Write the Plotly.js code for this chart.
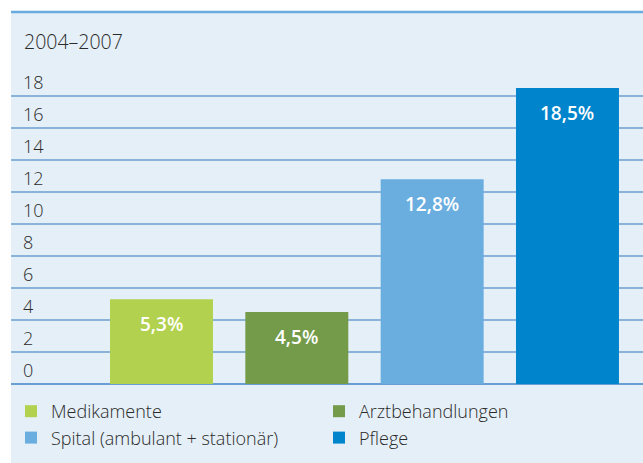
<!DOCTYPE html>
<html><head><meta charset="utf-8">
<script src="https://cdn.plot.ly/plotly-3.0.1.min.js"></script>
<style>html,body{margin:0;padding:0;background:#fff;}#c{width:643px;height:463px;}</style>
</head><body><div id="c"></div>
<script>
const categories = ['Medikamente', 'Arztbehandlungen', 'Spital (ambulant + stationär)', 'Pflege'];
const values = [5.3, 4.5, 12.8, 18.5];
const colors = ['#b1d14f', '#739b4a', '#6aaee0', '#0085cc'];
const tickVals = [0, 2, 4, 6, 8, 10, 12, 14, 16, 18];
const tickText = ['0', '2', '4', '6', '8', '10', '12', '14', '16', '18'];
const periodLabel = '2004–2007';

const fmt = v => v.toFixed(1).replace('.', ',') + '%';

const traces = categories.map((c, i) => ({
  type: 'bar', x: [c], y: [values[i]], name: c,
  marker: {color: colors[i]}, hoverinfo: 'skip'
}));

const W = 643, H = 463, ml = 11, mt = 12, mb = 79;
const ph = H - mt - mb, pw = W - ml;

const layout = {
  width: W, height: H,
  margin: {l: ml, r: 0, t: mt, b: mb, pad: 0},
  paper_bgcolor: '#e5eff7', plot_bgcolor: 'rgba(0,0,0,0)',
  font: {family: 'Open Sans', color: '#2a2a2a', size: 18},
  barmode: 'relative', bargap: 0.239,
  showlegend: true,
  title: {text: periodLabel, x: 24 / W, xanchor: 'left', xref: 'container',
          y: 1 - 42 / H, yanchor: 'middle', yref: 'container',
          font: {family: 'Open Sans', size: 19.5, color: '#2a2a2a', weight: 300}},
  xaxis: {type: 'category', categoryarray: categories, range: [-1.112, 3.558],
          showticklabels: false, showgrid: false, zeroline: false, ticks: '', fixedrange: true},
  yaxis: {range: [0, ph / 16], tickvals: tickVals, ticktext: tickText,
          ticklabelposition: 'inside', ticklabelstandoff: 9, ticklabelshift: -13,
          tickfont: {family: 'Open Sans', size: 18, color: '#2a2a2a', weight: 300},
          showgrid: true, gridcolor: '#8ab3dc', gridwidth: 1.5,
          zeroline: true, zerolinecolor: '#6a9fd6', zerolinewidth: 1.5,
          showline: false, ticks: ''},
  legend: {orientation: 'h', xref: 'container', yref: 'container',
           x: 11 / W, xanchor: 'left', y: 1 - 393 / H, yanchor: 'top',
           entrywidth: 263, entrywidthmode: 'pixels', traceorder: 'normal',
           bgcolor: 'rgba(0,0,0,0)',
           font: {family: 'Open Sans', size: 18, color: '#2a2a2a', weight: 300}},
  shapes: [
    {type: 'rect', xref: 'paper', yref: 'paper', x0: -ml / pw - 0.01, x1: 0, y0: -1, y1: 2,
     fillcolor: '#ffffff', line: {width: 0}, layer: 'above'},
    {type: 'rect', xref: 'paper', yref: 'paper', x0: -0.1, x1: 1.1, y0: 1, y1: 1 + (mt + 2) / ph,
     fillcolor: '#ffffff', line: {width: 0}, layer: 'above'},
    {type: 'line', xref: 'paper', yref: 'paper', x0: 0, x1: 1, y0: 1, y1: 1,
     line: {color: '#6aaade', width: 2.5}, layer: 'above'}
  ],
  annotations: categories.map((c, i) => ({
    x: c, y: values[i], xref: 'x', yref: 'y', text: fmt(values[i]),
    showarrow: false, yanchor: 'middle', yshift: -25,
    font: {family: 'Open Sans', size: 19, color: '#ffffff', weight: 600}
  }))
};

Plotly.newPlot('c', traces, layout, {displayModeBar: false, staticPlot: true});
</script></body></html>
